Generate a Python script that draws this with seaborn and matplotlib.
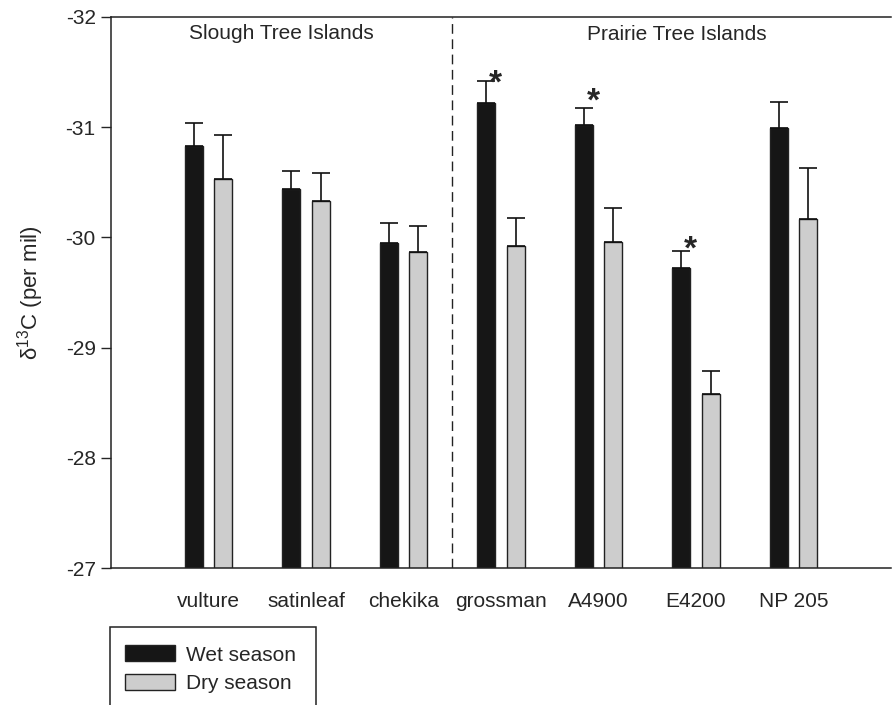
import matplotlib
matplotlib.use("Agg")
import matplotlib.pyplot as plt
from matplotlib.patches import Rectangle
import numpy as np
import pandas as pd
import seaborn as sns

# data (delta 13C, per mil; error = upper SE)
sites = ["vulture", "satinleaf", "chekika", "grossman", "A4900", "E4200", "NP 205"]
wet_mean = [-30.83, -30.44, -29.95, -31.22, -31.02, -29.72, -30.99]
wet_err = [0.21, 0.16, 0.18, 0.20, 0.15, 0.16, 0.24]
dry_mean = [-30.53, -30.33, -29.87, -29.92, -29.96, -28.58, -30.17]
dry_err = [0.40, 0.25, 0.23, 0.26, 0.31, 0.21, 0.46]
# significant wet/dry differences and where the star sits
starred = ["grossman", "A4900", "E4200"]
star_y = [-31.46, -31.30, -29.96]
seasons = ["Wet season", "Dry season"]
colors = ["#161616", "#cdcdcd"]

df = pd.DataFrame({
    "site": sites * 2,
    "season": [seasons[0]] * len(sites) + [seasons[1]] * len(sites),
    "d13C": wet_mean + dry_mean,
    "err": wet_err + dry_err,
})

sns.set_style("ticks")
plt.rcParams["font.family"] = ["Liberation Sans", "DejaVu Sans"]
plt.rcParams["axes.unicode_minus"] = False
plt.rcParams["mathtext.fontset"] = "custom"
plt.rcParams["mathtext.rm"] = "Liberation Sans"

fig = plt.figure(figsize=(8.92, 7.05), dpi=100)
ax = fig.add_axes([111 / 892, 1 - 568 / 705, 780 / 892, 551 / 705])

sns.barplot(data=df, x="site", y="d13C", hue="season", order=sites,
            hue_order=seasons, palette=colors, width=0.6, gap=0.38,
            edgecolor="#222222", linewidth=1.0, errorbar=None, ax=ax)

# one-sided error bars (toward more negative values) with caps
for cont, s in zip(ax.containers, seasons):
    sub = df[df["season"] == s].set_index("site").loc[sites]
    xs = [p.get_x() + p.get_width() / 2 for p in cont.patches]
    ax.errorbar(xs, sub["d13C"], yerr=[sub["err"], np.zeros(len(sites))],
                fmt="none", ecolor="#111111", elinewidth=1.2, capsize=6.5,
                capthick=1.2, zorder=1)

# significance stars next to the wet-season error bars
wet_cont = ax.containers[0]
for site, sy in zip(starred, star_y):
    p = wet_cont.patches[sites.index(site)]
    ax.text(p.get_x() + p.get_width() * 1.0, sy + 0.15, "*",
            ha="center", va="baseline", fontsize=24, fontweight="bold")

ax.axvline(2.5, color="#222222", lw=1.0, ls=(0, (7, 4)))
ax.text(0.75, -31.85, "Slough Tree Islands", ha="center", va="center", fontsize=15)
ax.text(4.8, -31.84, "Prairie Tree Islands", ha="center", va="center", fontsize=15)

ax.set_xlim(-1, 7)
ax.set_ylim(-27, -32)
ax.set_yticks([-32, -31, -30, -29, -28, -27])
ax.set_yticklabels(["-32", "-31", "-30", "-29", "-28", "-27"])
ax.tick_params(axis="y", direction="out", length=7, width=1, labelsize=15, pad=4)
ax.tick_params(axis="x", length=0, labelsize=15, pad=17)
ax.set_xlabel("")
ax.set_ylabel(r"δ$^{13}$C (per mil)", fontsize=16, labelpad=14)
ax.spines["right"].set_visible(False)
for sp in ["left", "top", "bottom"]:
    ax.spines[sp].set_linewidth(1.1)
    ax.spines[sp].set_color("#222222")

handles, labels = ax.get_legend_handles_labels()
ax.get_legend().remove()
fig.patches.append(Rectangle((110 / 892, -0.05), 206 / 892, 1 - 627 / 705 + 0.05,
                             transform=fig.transFigure, fill=False,
                             edgecolor="#222222", lw=1.1))
fig.legend(handles, labels, loc="upper left",
           bbox_to_anchor=(117 / 892, 1 - 637 / 705), frameon=False,
           fontsize=15, handlelength=2.4, handleheight=0.8,
           handletextpad=0.5, labelspacing=0.45, borderaxespad=0)

fig.savefig("out.png", dpi=100)
